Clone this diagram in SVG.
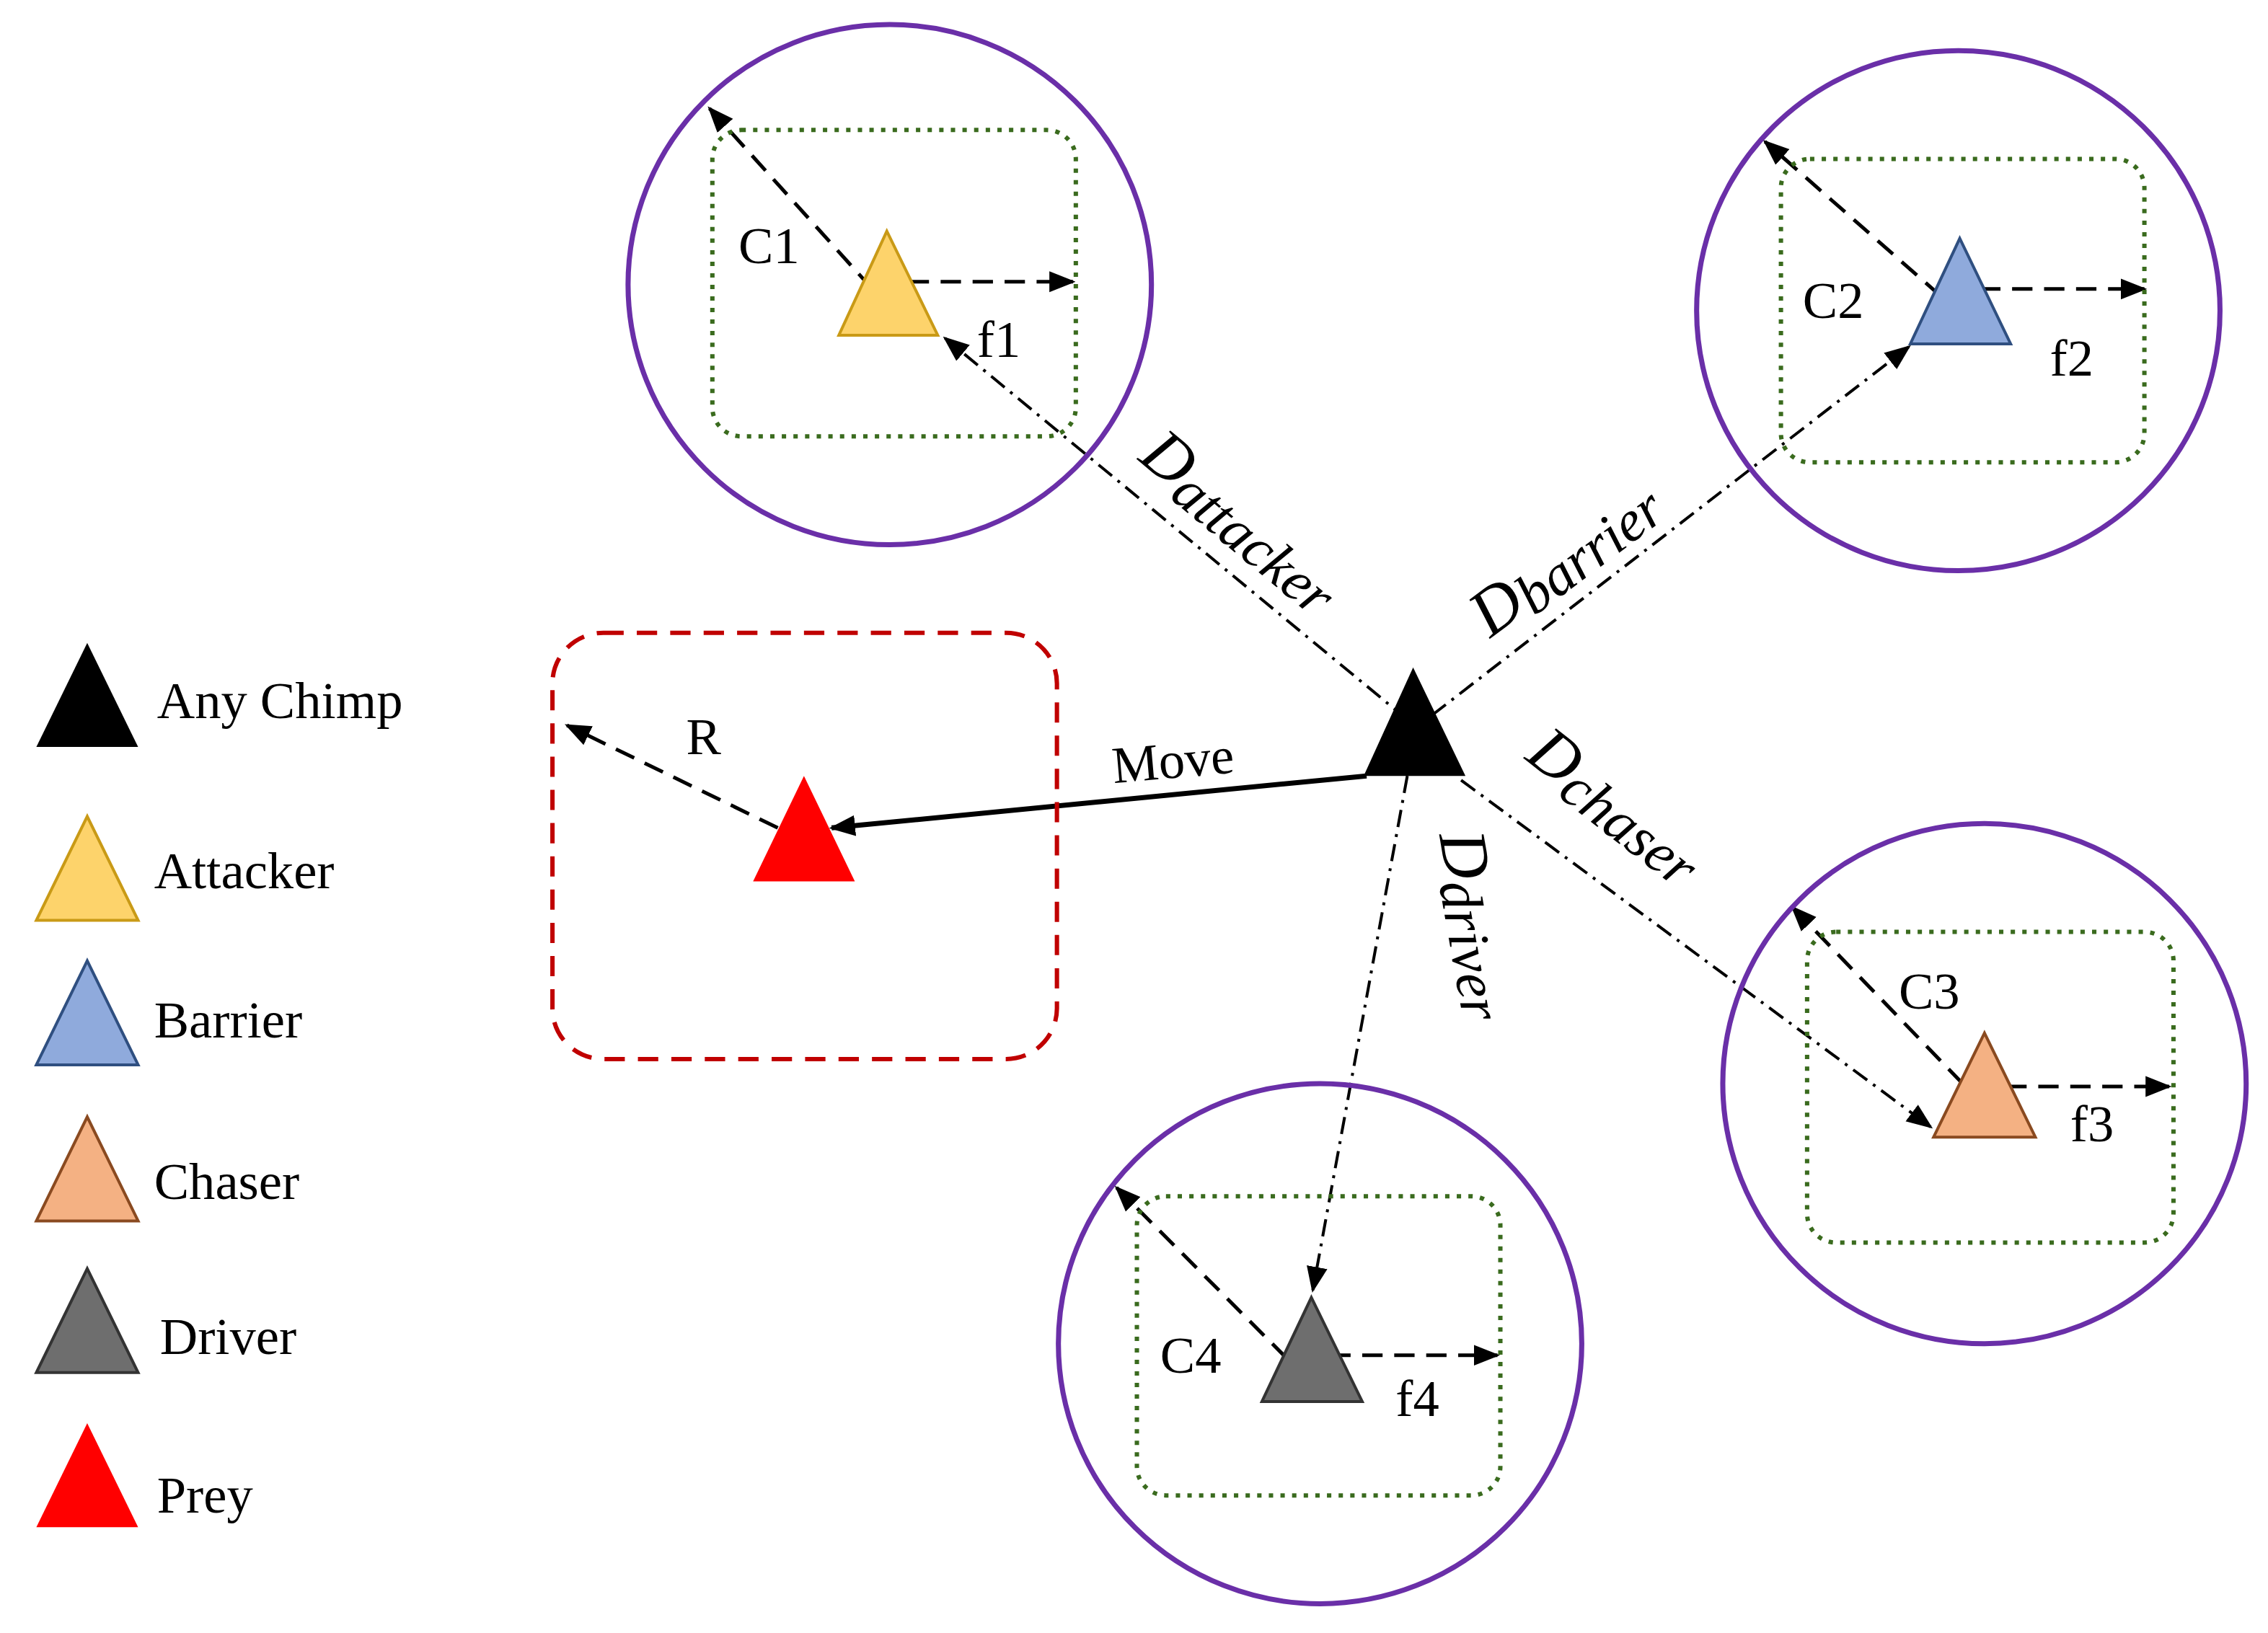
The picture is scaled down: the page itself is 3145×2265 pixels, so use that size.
<svg xmlns="http://www.w3.org/2000/svg" width="3145" height="2265" viewBox="0 0 3145 2265">
<defs>
<marker id="ahs" viewBox="0 0 10 10" refX="9" refY="5" markerWidth="18" markerHeight="18" orient="auto" markerUnits="userSpaceOnUse"><path d="M0,1 L10,5 L0,9 z" fill="#000"/></marker>
<style>
.circ{fill:none;stroke:#6a2fa8;stroke-width:3.5}
.dot{fill:none;stroke:#3a6b1e;stroke-width:3;stroke-dasharray:3 5}
.dash{fill:none;stroke:#000;stroke-width:2.5;stroke-dasharray:14 8}
.dd{fill:none;stroke:#000;stroke-width:2;stroke-dasharray:12 5 2 5}
.t{font-family:"Liberation Serif",serif;font-size:36px;fill:#000}
.ti{font-family:"Liberation Serif",serif;font-style:italic;font-size:46px;fill:#000}
.tri{stroke-width:2}
</style>
</defs>
<rect width="3145" height="2265" fill="#fff"/>
<g transform="scale(2.016,2.004)">
<g id="connectors">
<line class="dd" x1="968" y1="498" x2="650" y2="234" marker-end="url(#ahs)"/>
<line class="dd" x1="985" y1="495" x2="1313" y2="240" marker-end="url(#ahs)"/>
<line class="dd" x1="1005" y1="540" x2="1328" y2="780" marker-end="url(#ahs)"/>
<line class="dd" x1="968" y1="537" x2="903" y2="893" marker-end="url(#ahs)"/>
<line stroke="#000" stroke-width="3.5" x1="940" y1="537" x2="572" y2="573" marker-end="url(#ahs)"/>
<line class="dash" x1="535" y1="573" x2="390" y2="502" marker-end="url(#ahs)"/>
<line class="dash" x1="600" y1="200" x2="488" y2="75" marker-end="url(#ahs)"/>
<line class="dash" x1="625" y1="195" x2="738" y2="195" marker-end="url(#ahs)"/>
<line class="dash" x1="1335" y1="205" x2="1214" y2="98" marker-end="url(#ahs)"/>
<line class="dash" x1="1362" y1="200" x2="1475" y2="200" marker-end="url(#ahs)"/>
<line class="dash" x1="1350" y1="750" x2="1233" y2="628" marker-end="url(#ahs)"/>
<line class="dash" x1="1380" y1="752" x2="1492" y2="752" marker-end="url(#ahs)"/>
<line class="dash" x1="885" y1="940" x2="768" y2="822" marker-end="url(#ahs)"/>
<line class="dash" x1="915" y1="938" x2="1030" y2="938" marker-end="url(#ahs)"/>
</g>
<g id="attacker-zone"><circle class="circ" cx="612" cy="197" r="180"/><rect class="dot" x="490" y="90" width="250" height="212" rx="20"/><polygon class="tri" points="610,160 577,232 645,232" fill="#fdd36b" stroke="#c99a16"/><text class="t" x="508" y="182">C1</text><text class="t" x="672" y="247">f1</text></g>
<g id="barrier-zone"><circle class="circ" cx="1347" cy="215" r="180"/><rect class="dot" x="1225" y="110" width="250" height="210" rx="20"/><polygon class="tri" points="1348,165 1314,238 1383,238" fill="#8faadc" stroke="#2f4f80"/><text class="t" x="1240" y="220">C2</text><text class="t" x="1410" y="260">f2</text></g>
<g id="chaser-zone"><circle class="circ" cx="1365" cy="750" r="180"/><rect class="dot" x="1243" y="645" width="252" height="215" rx="20"/><polygon class="tri" points="1365,715 1330,787 1400,787" fill="#f4b183" stroke="#8a4a20"/><text class="t" x="1306" y="698">C3</text><text class="t" x="1424" y="790">f3</text></g>
<g id="driver-zone"><circle class="circ" cx="908" cy="930" r="180"/><rect class="dot" x="782" y="828" width="250" height="207" rx="20"/><polygon class="tri" points="902,898 868,970 937,970" fill="#6e6e6e" stroke="#333"/><text class="t" x="798" y="950">C4</text><text class="t" x="960" y="980">f4</text></g>
<g id="prey-zone"><rect x="380" y="438" width="347" height="295" rx="35" fill="none" stroke="#c00000" stroke-width="3" stroke-dasharray="14 9"/><polygon points="553,537 518,610 588,610" fill="#ff0000"/><text class="t" x="472" y="522">R</text></g>
<g id="any-chimp"><polygon points="972,462 938,537 1008,537" fill="#000"/></g>
<g id="labels">
<text class="t" x="766" y="542" transform="rotate(-5 766 542)">Move</text>
<text class="ti" transform="translate(782,318) rotate(40)">D<tspan font-size="40" dy="6">attacker</tspan></text>
<text class="ti" transform="translate(1025,442) rotate(-37)">D<tspan font-size="40" dy="6">barrier</tspan></text>
<text class="ti" transform="translate(1048,525) rotate(38)">D<tspan font-size="40" dy="6">chaser</tspan></text>
<text class="ti" transform="translate(990,578) rotate(80)">D<tspan font-size="40" dy="6">driver</tspan></text>
</g>
<g id="legend">
<polygon points="60,445 25,517 95,517" fill="#000"/><text class="t" x="108" y="497">Any Chimp</text>
<polygon class="tri" points="60,565 25,637 95,637" fill="#fdd36b" stroke="#c99a16"/><text class="t" x="106" y="615">Attacker</text>
<polygon class="tri" points="60,665 25,737 95,737" fill="#8faadc" stroke="#2f4f80"/><text class="t" x="106" y="718">Barrier</text>
<polygon class="tri" points="60,773 25,845 95,845" fill="#f4b183" stroke="#8a4a20"/><text class="t" x="106" y="830">Chaser</text>
<polygon class="tri" points="60,878 25,950 95,950" fill="#6e6e6e" stroke="#333"/><text class="t" x="110" y="937">Driver</text>
<polygon points="60,985 25,1057 95,1057" fill="#ff0000"/><text class="t" x="108" y="1047">Prey</text>
</g>
</g>
</svg>
